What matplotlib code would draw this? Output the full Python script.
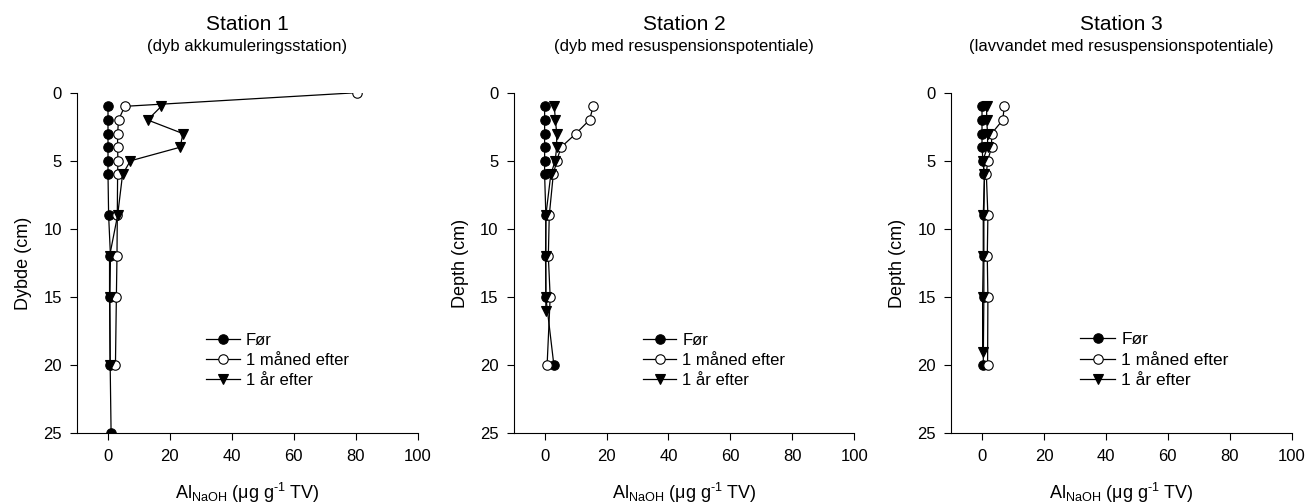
import matplotlib
matplotlib.use("Agg")
import matplotlib.pyplot as plt

plt.rcParams["font.family"] = ["Liberation Sans", "DejaVu Sans"]
plt.rcParams["mathtext.fontset"] = "custom"
plt.rcParams["mathtext.rm"] = "Liberation Sans"
plt.rcParams["mathtext.it"] = "Liberation Sans"

# Station 1
s1_for_depth = [1, 2, 3, 4, 5, 6, 9, 12, 15, 20, 25]
s1_for = [0.0, 0.0, 0.0, 0.0, 0.0, 0.0, 0.2, 0.8, 0.6, 0.7, 1.0]
s1_maaned_depth = [0, 1, 2, 3, 4, 5, 6, 9, 12, 15, 20]
s1_maaned = [80.3, 5.4, 3.4, 3.1, 3.1, 3.2, 3.1, 3.0, 2.9, 2.7, 2.4]
s1_aar_depth = [1, 2, 3, 4, 5, 6, 9, 12, 15, 20]
s1_aar = [17.2, 12.8, 24.2, 23.3, 7.2, 4.7, 3.1, 0.5, 0.5, 0.7]

# Station 2
s2_for_depth = [1, 2, 3, 4, 5, 6, 9, 12, 15, 20]
s2_for = [0.0, 0.0, 0.0, 0.0, 0.0, 0.0, 0.4, 0.3, 0.4, 3.0]
s2_maaned_depth = [1, 2, 3, 4, 5, 6, 9, 12, 15, 20]
s2_maaned = [15.7, 14.5, 10.1, 5.3, 3.9, 2.8, 1.5, 1.2, 1.8, 0.8]
s2_aar_depth = [1, 2, 3, 4, 5, 6, 9, 12, 15, 16]
s2_aar = [3.1, 3.5, 3.9, 3.9, 3.4, 2.0, 0.4, 0.4, 0.4, 0.4]

# Station 3
s3_for_depth = [1, 2, 3, 4, 5, 6, 9, 12, 15, 20]
s3_for = [0.0, 0.0, 0.0, 0.0, 0.3, 0.8, 0.6, 0.6, 0.6, 0.4]
s3_maaned_depth = [1, 2, 3, 4, 5, 6, 9, 12, 15, 20]
s3_maaned = [7.2, 6.7, 3.1, 3.1, 1.8, 1.4, 1.9, 1.7, 1.9, 1.8]
s3_aar_depth = [1, 2, 3, 4, 5, 6, 9, 12, 15, 19]
s3_aar = [1.5, 1.5, 1.8, 1.8, 0.2, 0.8, 0.4, 0.4, 0.2, 0.2]

titles = ["Station 1", "Station 2", "Station 3"]
subtitles = ["(dyb akkumuleringsstation)",
             "(dyb med resuspensionspotentiale)",
             "(lavvandet med resuspensionspotentiale)"]
ylabels = ["Dybde (cm)", "Depth (cm)", "Depth (cm)"]
series_labels = ["Før", "1 måned efter", "1 år efter"]
xticks = [0, 20, 40, 60, 80, 100]
yticks = [0, 5, 10, 15, 20, 25]

stations = [
    [(s1_for, s1_for_depth), (s1_maaned, s1_maaned_depth), (s1_aar, s1_aar_depth)],
    [(s2_for, s2_for_depth), (s2_maaned, s2_maaned_depth), (s2_aar, s2_aar_depth)],
    [(s3_for, s3_for_depth), (s3_maaned, s3_maaned_depth), (s3_aar, s3_aar_depth)],
]

styles = [
    dict(marker="o", markerfacecolor="black"),
    dict(marker="o", markerfacecolor="white"),
    dict(marker="v", markerfacecolor="black"),
]

fig = plt.figure(figsize=(13.08, 5.03), dpi=100)
lefts = [0.0589, 0.3927, 0.7271]
legend_fs = [12, 12, 12.5]

for i, left in enumerate(lefts):
    ax = fig.add_axes([left, 0.1382, 0.2604, 0.6775])
    for (x, d), st, lab in zip(stations[i], styles, series_labels):
        ax.plot(x, d, color="black", linewidth=0.9, markersize=6.8,
                markeredgecolor="black", markeredgewidth=0.8, label=lab, **st)
    ax.set_xlim(-10, 100)
    ax.set_ylim(25, 0)
    ax.set_xticks(xticks)
    ax.set_yticks(yticks)
    ax.spines["top"].set_visible(False)
    ax.spines["right"].set_visible(False)
    ax.tick_params(direction="out", length=5, width=0.8, labelsize=12, pad=6)
    ax.set_ylabel(ylabels[i], fontsize=13, labelpad=8)
    ax.set_xlabel(r"Al$_{\mathrm{NaOH}}$ ($\mu$g g$^{\text{-1}}$ TV)", fontsize=13, labelpad=12)
    ax.text(0.5, 1.0 + 68 / 341, titles[i], transform=ax.transAxes,
            ha="center", va="center", fontsize=15)
    ax.text(0.5, 1.0 + 46 / 341, subtitles[i], transform=ax.transAxes,
            ha="center", va="center", fontsize=12)
    ax.legend(loc="center left", bbox_to_anchor=(0.38, 0.215), frameon=False,
              fontsize=legend_fs[i], handlelength=2.0, handletextpad=0.35,
              borderpad=0, labelspacing=0.3, borderaxespad=0)

fig.savefig("out.png", dpi=100)
